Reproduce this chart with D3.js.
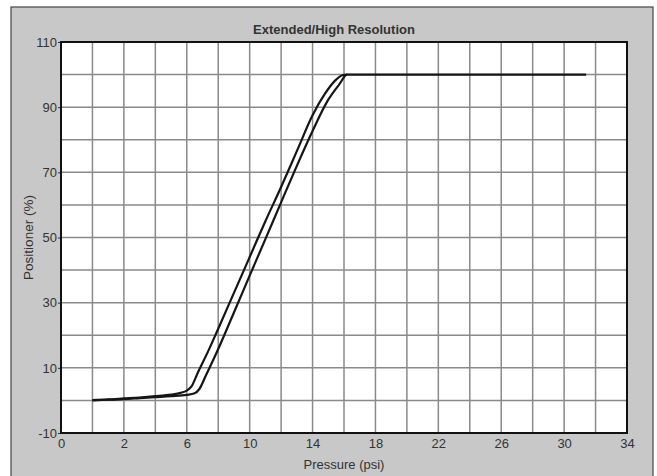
<html>
<head>
    <meta charset="utf-8">
    <script type="text/javascript" src="https://d3js.org/d3.v7.min.js"></script>
    <style>
        body { margin: 0; background: #ffffff; }
        * { font-family: 'Liberation Sans', Arial, Helvetica, sans-serif; }
        .tick text { font-size: 13px; fill: #333333; }
    </style>
</head>
<body>
    <svg id="chart" width="657" height="476"></svg>

    <script type="text/javascript">
        // rising pressure (lower / right branch)
        var pressureUp = [0, 1, 2, 3, 4, 5, 6, 6.5, 6.8, 7.2, 8, 9, 10, 11, 12, 13, 14, 15, 15.7, 16.2, 20, 24, 28, 31.4];
        var positionUp = [0, 0.2, 0.4, 0.7, 1.0, 1.3, 1.7, 2.2, 3.5, 7.5, 15.8, 27, 38.3, 49.5, 60.8, 72, 82.7, 92.3, 97, 100, 100, 100, 100, 100];
        // falling pressure (upper / left branch)
        var pressureDown = [0, 1, 2, 3, 4, 5, 5.6, 6.0, 6.3, 6.7, 7.4, 8, 9, 10, 11, 12, 13, 14, 14.8, 15.4, 15.9, 16.2];
        var positionDown = [0.1, 0.3, 0.6, 0.9, 1.3, 1.8, 2.3, 3.0, 4.3, 8.5, 15.5, 22, 33, 44, 55, 65.5, 76.5, 87.5, 94.2, 98, 99.8, 100];

        var xTickValues = [-2, 2, 6, 10, 14, 18, 22, 26, 30, 34];
        var xTickLabels = ["0", "2", "6", "10", "14", "18", "22", "26", "30", "34"];
        var yTickValues = [110, 90, 70, 50, 30, 10, -10];

        var svg = d3.select("#chart");
        var plotLeft = 61, plotTop = 42, plotRight = 627, plotBottom = 433;

        // grey panel behind the chart
        svg.append("rect")
            .attr("x", 11).attr("y", 7)
            .attr("width", 642).attr("height", 480)
            .attr("fill", "#c8c8c8")
            .attr("stroke", "#444").attr("stroke-width", 1.2);

        var x = d3.scaleLinear().domain([-2, 34]).range([plotLeft, plotRight]);
        var y = d3.scaleLinear().domain([-10, 110]).range([plotBottom, plotTop]);

        svg.append("rect")
            .attr("x", plotLeft).attr("y", plotTop)
            .attr("width", plotRight - plotLeft).attr("height", plotBottom - plotTop)
            .attr("fill", "#ffffff");

        // grid
        svg.append("g").selectAll("line")
            .data(d3.range(0, 34, 2))
            .enter().append("line")
            .attr("x1", function(d) { return x(d); })
            .attr("x2", function(d) { return x(d); })
            .attr("y1", plotTop).attr("y2", plotBottom)
            .attr("stroke", "#8a8a8a").attr("stroke-width", 1.5);

        svg.append("g").selectAll("line")
            .data(d3.range(0, 110, 10))
            .enter().append("line")
            .attr("y1", function(d) { return y(d); })
            .attr("y2", function(d) { return y(d); })
            .attr("x1", plotLeft).attr("x2", plotRight)
            .attr("stroke", "#8a8a8a").attr("stroke-width", 1.5);

        // axes
        var xAxis = d3.axisBottom(x)
            .tickValues(xTickValues)
            .tickSize(0)
            .tickPadding(6)
            .tickFormat(function(d, i) { return xTickLabels[i]; });

        svg.append("g")
            .attr("transform", "translate(0," + plotBottom + ")")
            .call(xAxis)
            .call(function(g) { g.select(".domain").remove(); });

        var yAxis = d3.axisLeft(y)
            .tickValues(yTickValues)
            .tickSize(3)
            .tickPadding(1)
            .tickFormat(function(d) { return String(d); });

        svg.append("g")
            .attr("transform", "translate(" + plotLeft + ",0)")
            .call(yAxis)
            .call(function(g) {
                g.select(".domain").remove();
                g.selectAll(".tick line").attr("stroke", "#333");
            });

        // frame
        svg.append("rect")
            .attr("x", plotLeft).attr("y", plotTop)
            .attr("width", plotRight - plotLeft).attr("height", plotBottom - plotTop)
            .attr("fill", "none")
            .attr("stroke", "#111").attr("stroke-width", 2);

        // curves
        var line = d3.line()
            .x(function(d) { return x(d[0]); })
            .y(function(d) { return y(d[1]); })
            .curve(d3.curveMonotoneX);

        var upData = d3.zip(pressureUp, positionUp);
        var downData = d3.zip(pressureDown, positionDown);

        [upData, downData].forEach(function(data) {
            svg.append("path")
                .datum(data)
                .attr("d", line)
                .attr("fill", "none")
                .attr("stroke", "#151515")
                .attr("stroke-width", 2.2)
                .attr("stroke-linejoin", "round");
        });

        // titles
        svg.append("text")
            .attr("x", 334).attr("y", 34)
            .attr("text-anchor", "middle")
            .style("font-size", "13px").style("font-weight", "bold")
            .attr("fill", "#333")
            .text("Extended/High Resolution");

        svg.append("text")
            .attr("x", (plotLeft + plotRight) / 2).attr("y", 469)
            .attr("text-anchor", "middle")
            .style("font-size", "13px")
            .attr("fill", "#333")
            .text("Pressure (psi)");

        svg.append("text")
            .attr("transform", "translate(33," + ((plotTop + plotBottom) / 2) + ") rotate(-90)")
            .attr("text-anchor", "middle")
            .style("font-size", "13.5px")
            .attr("fill", "#333")
            .text("Positioner (%)");
    </script>
</body>
</html>
